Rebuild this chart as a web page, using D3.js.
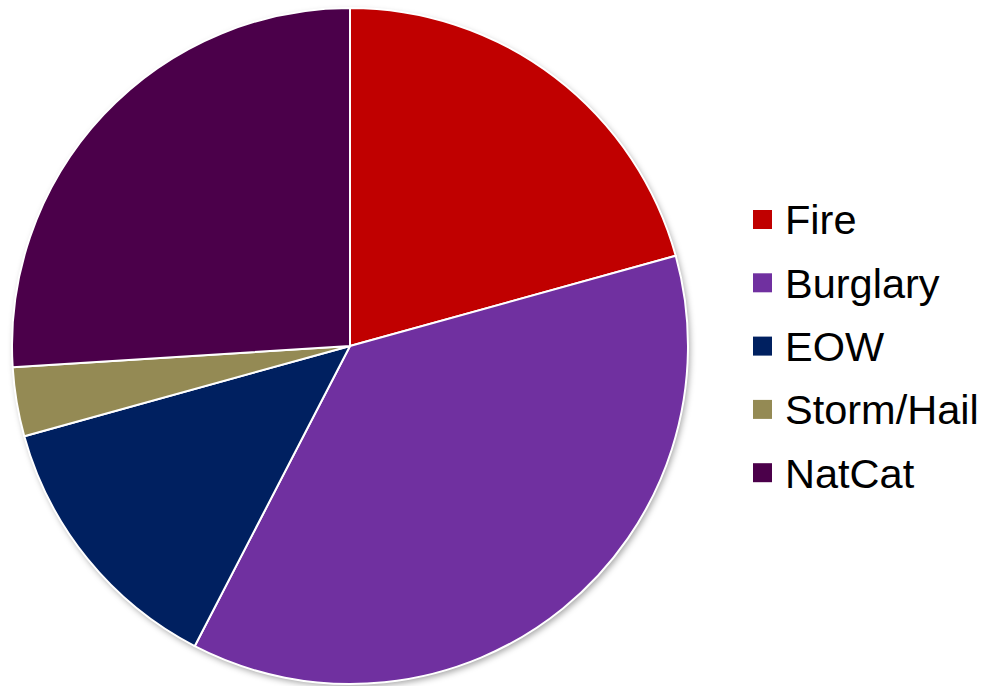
<!DOCTYPE html>
<html>
<head>
<meta charset="utf-8">
<script src="https://cdn.jsdelivr.net/npm/d3@7"></script>
<style>
  html, body { margin: 0; padding: 0; background: #fff; }
  svg { display: block; }
</style>
</head>
<body>
<svg id="chart" width="985" height="686"></svg>
<script>
const categories = ["Fire", "Burglary", "EOW", "Storm/Hail", "NatCat"];
const values = [20.7, 36.9, 13.1, 3.3, 26.0];
const colors = ["#C00000", "#7030A0", "#002060", "#948A54", "#4B004A"];

const svg = d3.select("#chart");
const cx = 350, cy = 346, r = 338;

const defs = svg.append("defs");
const f = defs.append("filter").attr("id", "shadow")
  .attr("x", "-10%").attr("y", "-10%").attr("width", "120%").attr("height", "120%");
f.append("feDropShadow").attr("dx", 2).attr("dy", 3).attr("stdDeviation", 3)
  .attr("flood-color", "#000").attr("flood-opacity", 0.35);

const data = categories.map((c, i) => ({ name: c, value: values[i], color: colors[i] }));
const pie = d3.pie().value(d => d.value).sort(null).startAngle(0).endAngle(2 * Math.PI);
const arc = d3.arc().innerRadius(0).outerRadius(r);

const g = svg.append("g").attr("transform", `translate(${cx},${cy})`);
g.append("circle").attr("r", r).attr("fill", "#fff").attr("filter", "url(#shadow)");
g.selectAll("path.slice").data(pie(data)).enter().append("path")
  .attr("class", "slice")
  .attr("d", arc)
  .attr("fill", d => d.data.color)
  .attr("stroke", "#fff")
  .attr("stroke-width", 2)
  .attr("stroke-linejoin", "round");

const legend = svg.append("g").attr("transform", "translate(753,219.5)");
const rowH = 63.3;
const items = legend.selectAll("g.item").data(data).enter().append("g")
  .attr("class", "item")
  .attr("transform", (d, i) => `translate(0,${i * rowH})`);
items.append("rect").attr("x", 0).attr("y", -9.5).attr("width", 19).attr("height", 19)
  .attr("fill", d => d.color);
items.append("text").attr("x", 32).attr("y", 14.8)
  .attr("font-family", "Liberation Sans, Arial, sans-serif")
  .attr("font-size", 41.5)
  .attr("fill", "#000")
  .text(d => d.name);
</script>
</body>
</html>
